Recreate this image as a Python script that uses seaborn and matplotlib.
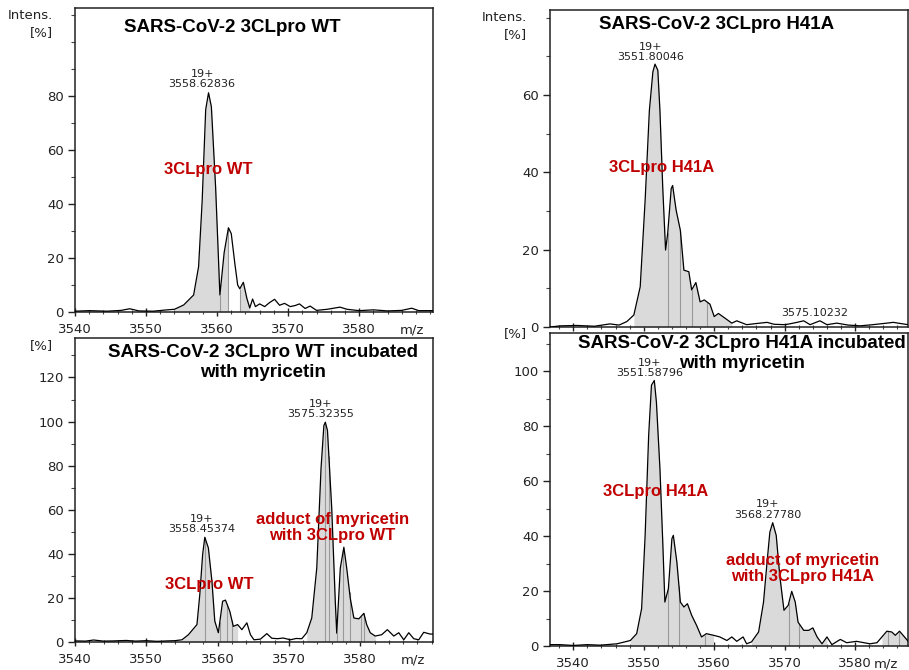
import numpy as np
import matplotlib
matplotlib.use("Agg")
import matplotlib.pyplot as plt
import seaborn as sns

# spectra: m/z and relative intensity [%]
wt_mz = [3540.0, 3542.0, 3544.5, 3546.5, 3547.7, 3549.0, 3551.0, 3553.0, 3554.0, 3555.3,
         3556.7, 3557.4, 3557.9, 3558.4, 3558.8, 3559.2, 3559.8, 3560.4, 3561.0, 3561.6,
         3562.0, 3562.5, 3562.9, 3563.2, 3563.7, 3564.2, 3564.6, 3565.0, 3565.4, 3566.0,
         3566.7, 3567.4, 3568.1, 3568.8, 3569.5, 3570.3, 3571.0, 3571.6, 3572.4, 3573.1,
         3574.0, 3575.5, 3577.3, 3578.3, 3580.0, 3582.0, 3584.0, 3586.0, 3587.4, 3588.4,
         3590.4]
wt_int = [0.3, 0.5, 0.3, 0.6, 1.2, 0.4, 0.3, 0.8, 1.0, 2.6,
          6.3, 16.8, 41.0, 75.0, 81.2, 76.0, 46.0, 6.3, 22.0, 31.2,
          29.0, 18.0, 10.0, 8.6, 11.0, 5.0, 1.5, 4.8, 2.0, 3.0,
          2.0, 3.5, 4.7, 2.5, 3.2, 2.0, 2.4, 3.0, 1.3, 2.2,
          0.6, 1.0, 1.8, 1.0, 0.5, 0.8, 0.4, 0.6, 1.4, 0.5,
          0.5]

h41_mz = [3536.7, 3538.2, 3540.5, 3543.0, 3545.2, 3546.5, 3547.6, 3548.6, 3549.5, 3550.2,
          3550.8, 3551.3, 3551.6, 3552.0, 3552.3, 3552.7, 3553.1, 3553.4, 3553.9, 3554.1,
          3554.6, 3555.2, 3555.7, 3556.4, 3556.8, 3557.4, 3558.0, 3558.6, 3559.4, 3560.0,
          3560.6, 3561.6, 3562.5, 3563.2, 3564.6, 3566.0, 3567.5, 3568.5, 3570.1, 3571.5,
          3572.7, 3573.6, 3575.0, 3576.0, 3577.4, 3579.0, 3580.7, 3582.5, 3584.5, 3585.4,
          3587.5]
h41_int = [0.0, 0.3, 0.4, 0.2, 0.8, 0.5, 1.4, 3.1, 10.4, 32.8,
           56.0, 66.0, 68.0, 66.4, 56.0, 36.0, 19.9, 24.2, 35.8, 36.6,
           30.2, 25.0, 14.7, 14.3, 9.6, 11.5, 6.5, 7.0, 5.9, 2.7,
           3.5, 2.2, 1.0, 1.6, 0.6, 0.9, 1.2, 0.7, 0.6, 1.1,
           1.6, 0.6, 1.6, 0.6, 1.0, 0.5, 0.3, 0.6, 1.0, 1.2,
           0.6]

myr_wt_mz = [3540.0, 3541.5, 3542.6, 3544.0, 3545.5, 3547.2, 3548.5, 3550.0, 3551.5, 3553.0,
             3554.0, 3555.0, 3555.9, 3557.1, 3557.5, 3557.9, 3558.2, 3558.7, 3559.2, 3559.6,
             3560.1, 3560.7, 3561.1, 3561.7, 3562.2, 3562.8, 3563.4, 3564.1, 3564.6, 3565.1,
             3566.0, 3566.9, 3567.6, 3568.4, 3569.2, 3570.2, 3571.0, 3571.8, 3572.5, 3573.2,
             3573.9, 3574.5, 3574.9, 3575.1, 3575.4, 3576.0, 3576.5, 3576.7, 3577.2, 3577.7,
             3578.1, 3578.6, 3579.1, 3579.8, 3580.5, 3580.9, 3581.4, 3582.1, 3583.0, 3583.8,
             3584.7, 3585.4, 3586.1, 3586.8, 3587.5, 3588.2, 3588.9, 3589.8, 3590.2]
myr_wt_int = [0.5, 0.4, 0.9, 0.4, 0.5, 0.7, 0.4, 0.6, 0.3, 0.5,
              0.6, 1.0, 3.3, 7.9, 21.5, 39.7, 47.5, 42.7, 27.6, 9.5,
              4.2, 18.5, 19.0, 14.0, 7.1, 7.9, 5.6, 8.7, 3.3, 1.0,
              1.3, 3.8, 1.7, 1.5, 1.8, 1.0, 1.6, 1.5, 4.2, 10.9,
              33.5, 78.8, 98.2, 99.7, 96.0, 60.6, 18.3, 4.0, 33.5, 43.0,
              33.5, 19.8, 10.9, 10.5, 13.0, 7.9, 4.2, 2.7, 3.3, 5.6,
              2.7, 4.2, 1.0, 4.2, 1.5, 1.0, 4.4, 3.6, 3.6]

myr_h41_mz = [3536.7, 3538.1, 3540.0, 3542.0, 3543.8, 3546.2, 3548.1, 3549.0, 3549.7, 3550.2,
              3550.7, 3551.1, 3551.5, 3551.8, 3552.3, 3552.7, 3553.0, 3553.5, 3554.0, 3554.2,
              3554.7, 3555.2, 3555.7, 3556.2, 3556.8, 3557.5, 3558.2, 3558.9, 3559.9, 3560.8,
              3561.8, 3562.5, 3563.2, 3564.1, 3564.6, 3565.3, 3566.3, 3567.0, 3567.5, 3567.9,
              3568.3, 3568.8, 3569.3, 3569.9, 3570.5, 3571.0, 3571.5, 3571.9, 3572.7, 3573.4,
              3574.0, 3574.6, 3575.3, 3576.0, 3576.7, 3577.9, 3578.8, 3580.2, 3582.1, 3583.1,
              3583.8, 3584.5, 3585.2, 3585.7, 3586.3, 3587.0, 3587.6]
myr_h41_int = [0.5, 0.5, 0.2, 0.5, 0.3, 0.8, 2.0, 4.5, 13.6, 40.3,
               76.7, 95.0, 96.7, 88.8, 64.6, 37.9, 16.0, 20.9, 39.1, 40.3,
               30.6, 16.0, 14.2, 15.4, 11.2, 7.5, 3.3, 4.5, 3.9, 3.3,
               2.0, 3.3, 1.7, 3.3, 0.8, 1.5, 5.1, 16.0, 30.6, 41.5,
               44.9, 40.3, 25.7, 13.0, 14.8, 19.9, 16.0, 8.7, 5.7, 5.7,
               6.6, 3.3, 0.8, 3.3, 0.5, 2.4, 1.2, 1.7, 0.8, 1.2,
               3.3, 5.4, 5.1, 3.9, 5.4, 3.3, 1.5]

# integrated (shaded) ranges and the grey split lines inside them
wt_fills = [(3554.0, 3561.6), (3563.2, 3564.6)]
wt_splits = [3560.4, 3561.6, 3563.2]
h41_fills = [(3548.6, 3562.5)]
h41_splits = [3553.4, 3555.2, 3556.8, 3559.0]
myr_wt_fills = [(3555.0, 3562.8), (3572.5, 3582.1)]
myr_wt_splits = [3558.2, 3560.3, 3561.3, 3562.0, 3575.0, 3575.6, 3576.7, 3577.6, 3578.5, 3580.1, 3580.5]
myr_h41_fills = [(3548.1, 3559.9), (3565.3, 3576.0), (3583.8, 3587.6)]
myr_h41_splits = [3553.5, 3555.0, 3558.7, 3570.6, 3572.1, 3584.7, 3586.2]

W, H = 909, 670
RED = "#c00000"
TITLE_FONT = "Liberation Sans"

sns.set_theme(style="ticks")
plt.rcParams["font.family"] = ["DejaVu Sans"]

fig = plt.figure(figsize=(W / 100, H / 100), dpi=100)


def px_axes(left, top, right, bottom):
    return fig.add_axes([left / W, 1 - bottom / H, (right - left) / W, (bottom - top) / H])


def spectrum(ax, mz, inten, fills, splits, xlim, ylim, yticks, xlabels=True, mz_pos=None):
    mz = np.asarray(mz)
    inten = np.asarray(inten)
    for a, b in fills:
        m = (mz >= a) & (mz <= b)
        ax.fill_between(mz, 0, inten, where=m, color="#dadada", lw=0, zorder=1)
    ax.vlines(splits, 0, np.interp(splits, mz, inten), color="#999999", lw=0.8, zorder=2)
    sns.lineplot(x=mz, y=inten, ax=ax, color="black", lw=0.9, sort=False,
                 estimator=None, zorder=3)
    ax.set_xticks([3540, 3550, 3560, 3570, 3580])
    ax.set_xticks(np.arange(3536, 3592, 2), minor=True)
    ax.set_yticks(yticks)
    ax.set_yticks(np.arange(0, ylim[1], 10), minor=True)
    ax.set_xlim(*xlim)
    ax.set_ylim(*ylim)
    ax.tick_params(axis="x", which="major", direction="inout", length=6, width=1,
                   labelsize=9.5, colors="#222222", pad=5, labelbottom=xlabels)
    ax.tick_params(axis="x", which="minor", direction="inout", length=3, width=0.8, colors="#444444")
    ax.tick_params(axis="y", which="major", direction="out", length=5, width=1,
                   labelsize=9.5, colors="#222222", pad=3)
    ax.tick_params(axis="y", which="minor", direction="out", length=3, width=0.8, colors="#444444")
    ax.set_xlabel("")
    ax.set_ylabel("")
    for s in ax.spines.values():
        s.set_color("#222222")
        s.set_linewidth(1.1)
    if mz_pos is not None:
        ax.annotate("m/z", xy=(mz_pos, 0), xycoords=("data", "axes fraction"),
                    xytext=(0, -8), textcoords="offset points", ha="center", va="top",
                    fontsize=9.5, color="#222222")


def peak_label(ax, x, y, lines):
    ax.text(x, y, lines, ha="center", va="bottom", fontsize=8, color="#222222",
            linespacing=1.05, zorder=5)


def red_label(ax, x, y, txt):
    ax.text(x, y, txt, ha="center", va="center", fontsize=12, color=RED,
            fontweight="bold", family=TITLE_FONT, linespacing=1.1, zorder=6)


def title(ax, x, y, txt):
    ax.text(x, y, txt, ha="center", va="center", fontsize=13.5, color="black",
            fontweight="bold", family=TITLE_FONT, linespacing=1.2, zorder=6)


# top left: WT
ax1 = px_axes(75, 8, 433, 312)
spectrum(ax1, wt_mz, wt_int, wt_fills, wt_splits, (3540, 3590.4), (0, 112.6),
         [0, 20, 40, 60, 80], mz_pos=3587.4)
title(ax1, 3562.1, 105.5, "SARS-CoV-2 3CLpro WT")
peak_label(ax1, 3557.9, 82.5, "19+\n3558.62836")
red_label(ax1, 3558.7, 52.6, "3CLpro WT")

# top right: H41A
ax2 = px_axes(550, 10, 908, 327)
spectrum(ax2, h41_mz, h41_int, h41_fills, h41_splits, (3536.7, 3587.5), (0, 82),
         [0, 20, 40, 60], xlabels=False)
title(ax2, 3560.3, 78.3, "SARS-CoV-2 3CLpro H41A")
peak_label(ax2, 3551.0, 68.5, "19+\n3551.80046")
red_label(ax2, 3552.6, 41.3, "3CLpro H41A")
ax2.text(3574.3, 2.3, "3575.10232", ha="center", va="bottom", fontsize=8, color="#222222")

# bottom left: WT + myricetin
ax3 = px_axes(75, 338, 433, 642)
spectrum(ax3, myr_wt_mz, myr_wt_int, myr_wt_fills, myr_wt_splits, (3540, 3590.2), (0, 137.9),
         [0, 20, 40, 60, 80, 100, 120], mz_pos=3587.4)
title(ax3, 3566.4, 126.7, "SARS-CoV-2 3CLpro WT incubated\nwith myricetin")
peak_label(ax3, 3557.8, 49.0, "19+\n3558.45374")
peak_label(ax3, 3574.5, 101.0, "19+\n3575.32355")
red_label(ax3, 3576.1, 52.1, "adduct of myricetin\nwith 3CLpro WT")
red_label(ax3, 3558.8, 26.0, "3CLpro WT")

# bottom right: H41A + myricetin
ax4 = px_axes(550, 333, 908, 646)
spectrum(ax4, myr_h41_mz, myr_h41_int, myr_h41_fills, myr_h41_splits, (3536.7, 3587.5), (0, 114),
         [0, 20, 40, 60, 80, 100], mz_pos=3584.4)
title(ax4, 3563.9, 106.5, "SARS-CoV-2 3CLpro H41A incubated\nwith myricetin")
peak_label(ax4, 3550.8, 97.5, "19+\n3551.58796")
peak_label(ax4, 3567.6, 46.0, "19+\n3568.27780")
red_label(ax4, 3551.7, 56.3, "3CLpro H41A")
red_label(ax4, 3572.5, 28.3, "adduct of myricetin\nwith 3CLpro H41A")

# intensity axis captions
for x, y, txt in [(53, 24, "Intens.\n[%]"), (527, 26, "Intens.\n[%]"),
                  (53, 346, "[%]"), (527, 334, "[%]")]:
    fig.text(x / W, 1 - y / H, txt, ha="right", va="center", fontsize=9.5,
             color="#222222", linespacing=1.35)

fig.savefig("out.png", dpi=100)
